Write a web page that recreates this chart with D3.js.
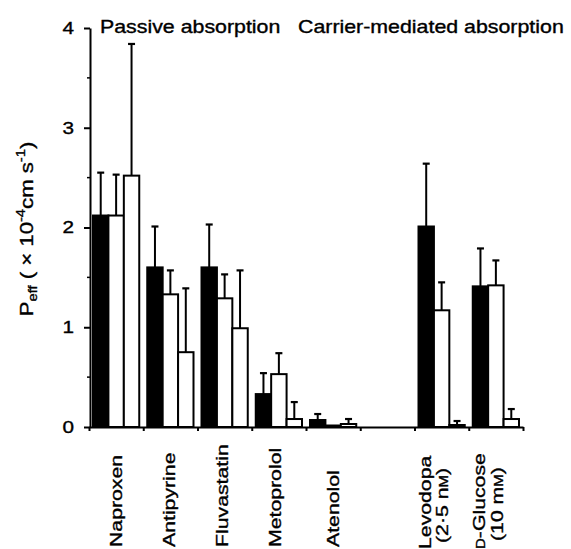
<!DOCTYPE html>
<html>
<head>
<meta charset="utf-8">
<script src="https://cdn.jsdelivr.net/npm/d3@7"></script>
<style>
  body { margin: 0; background: #fff; }
  text { font-family: "Liberation Sans", Arial, sans-serif; fill: #000; stroke: #000; stroke-width: 0.35px; }
</style>
</head>
<body>
<svg id="chart" width="571" height="549"></svg>
<script>
//data (upper error = SD shown above the bar)
var categories = ['Naproxen', 'Antipyrine', 'Fluvastatin', 'Metoprolol', 'Atenolol', '', 'Levodopa', 'D-Glucose'];
var seriesNames = ['s1', 's2', 's3'];
var series1 = [2.12, 1.60, 1.60, 0.33, 0.07, null, 2.01, 1.41];
var series2 = [2.12, 1.33, 1.29, 0.53, 0.015, null, 1.17, 1.42];
var series3 = [2.52, 0.75, 0.99, 0.08, 0.03, null, 0.02, 0.08];
var error1 = [0.43, 0.41, 0.43, 0.21, 0.06, null, 0.63, 0.38];
var error2 = [0.41, 0.24, 0.24, 0.21, 0, null, 0.28, 0.25];
var error3 = [1.32, 0.64, 0.58, 0.17, 0.05, null, 0.04, 0.10];
var yTicks = [0, 1, 2, 3, 4];
var yMinorTicks = [0.5, 1.5, 2.5, 3.5];
var groupTitles = ['Passive absorption', 'Carrier-mediated absorption'];

var svg = d3.select('#chart');
var stretch = 1.22; //glyphs are wider than Arial in the original

//scales
var x = d3.scaleBand().domain(d3.range(categories.length)).range([89, 523]).padding(0);
var xSub = d3.scaleBand().domain(seriesNames).range([4, x.bandwidth() - 4]).padding(0);
var y = d3.scaleLinear().domain([0, 4]).range([427, 28]);
var xEdge = d3.scaleLinear().domain([0, categories.length]).range([89, 523]);

var allValues = [series1, series2, series3];
var allErrors = [error1, error2, error3];
var fills = ['#000', '#fff', '#fff'];

//bars + error bars
var barData = [];
categories.forEach(function(c, i) {
  seriesNames.forEach(function(s, j) {
    var v = allValues[j][i];
    if (v == null) return;
    barData.push({ cat: i, s: s, idx: j, value: v, err: allErrors[j][i] });
  });
});
function barCenter(d) { return x(d.cat) + xSub(d.s) + xSub.bandwidth() / 2; }

var bars = svg.append('g').attr('class', 'bars');
var withErr = barData.filter(function(d) { return d.err > 0; });
bars.selectAll('line.err')
  .data(withErr)
  .enter().append('line')
  .attr('class', 'err')
  .attr('x1', barCenter).attr('x2', barCenter)
  .attr('y1', function(d) { return y(d.value); })
  .attr('y2', function(d) { return y(d.value + d.err); })
  .attr('stroke', '#000').attr('stroke-width', 2);

bars.selectAll('line.cap')
  .data(withErr)
  .enter().append('line')
  .attr('class', 'cap')
  .attr('x1', function(d) { return barCenter(d) - 3.5; })
  .attr('x2', function(d) { return barCenter(d) + 3.5; })
  .attr('y1', function(d) { return y(d.value + d.err); })
  .attr('y2', function(d) { return y(d.value + d.err); })
  .attr('stroke', '#000').attr('stroke-width', 2.2);

bars.selectAll('rect')
  .data(barData)
  .enter().append('rect')
  .attr('x', function(d) { return x(d.cat) + xSub(d.s); })
  .attr('y', function(d) { return y(d.value); })
  .attr('width', xSub.bandwidth())
  .attr('height', function(d) { return y(0) - y(d.value); })
  .attr('fill', function(d) { return fills[d.idx]; })
  .attr('stroke', '#000')
  .attr('stroke-width', 2);

//y axis
var yAxis = svg.append('g')
  .attr('transform', 'translate(90,0)')
  .call(d3.axisLeft(y).tickValues(yTicks).tickSize(6).tickSizeOuter(0).tickFormat(d3.format('d')));
yAxis.selectAll('.domain, line').attr('stroke', '#000').attr('stroke-width', 2);
yAxis.selectAll('text')
  .attr('x', -16 / stretch)
  .attr('transform', 'scale(' + stretch + ',1)')
  .style('font-size', '17px')
  .style('font-family', '"Liberation Sans", Arial, sans-serif');

svg.append('g').selectAll('line')
  .data(yMinorTicks)
  .enter().append('line')
  .attr('x1', 87).attr('x2', 90)
  .attr('y1', function(d) { return y(d); })
  .attr('y2', function(d) { return y(d); })
  .attr('stroke', '#000').attr('stroke-width', 1.5);

//x axis
var xAxis = svg.append('g')
  .attr('transform', 'translate(0,427)')
  .call(d3.axisBottom(xEdge).tickValues(d3.range(categories.length + 1)).tickSize(4).tickSizeOuter(0).tickFormat(''));
xAxis.selectAll('.domain, line').attr('stroke', '#000').attr('stroke-width', 2);

//category labels (rotated, stretched along text)
function rotLabel(cx, cy, parts) {
  var t = svg.append('text')
    .attr('transform', 'translate(' + cx + ',' + cy + ') rotate(-90) scale(1.25,1)')
    .style('font-size', '17px');
  parts.forEach(function(p) {
    t.append('tspan').text(p[0]).style('font-size', p[1] ? p[1] + 'px' : null);
  });
  return t;
}
var singleOffsets = [6, 5, 3, 2, 6];
categories.forEach(function(c, i) {
  if (c == '' || i > 4) return;
  rotLabel(x(i) + x.bandwidth() / 2 + singleOffsets[i], 547, [[c]]);
});
var lev = x(6) + x.bandwidth() / 2;
rotLabel(lev - 11, 549, [['Levodopa']]);
rotLabel(lev + 6, 543, [['(2·5 n'], ['M', 12], [')']]);
var glu = x(7) + x.bandwidth() / 2;
rotLabel(glu - 11, 549, [['D', 12], ['-Glucose']]);
rotLabel(glu + 7, 541, [['(10 m'], ['M', 12], [')']]);

//y axis title
var yTitle = svg.append('text')
  .attr('transform', 'translate(33,229) rotate(-90) scale(1.23,1)')
  .attr('text-anchor', 'middle')
  .style('font-size', '18px');
yTitle.append('tspan').text('P');
yTitle.append('tspan').text('eff').attr('dy', 4).style('font-size', '12px');
yTitle.append('tspan').text(' ( × 10').attr('dy', -4);
yTitle.append('tspan').text('-4').attr('dy', -8).style('font-size', '12px');
yTitle.append('tspan').text('cm s').attr('dy', 8);
yTitle.append('tspan').text('-1').attr('dy', -8).style('font-size', '12px');
yTitle.append('tspan').text(')').attr('dy', 8);

//group titles
svg.append('text').attr('transform', 'translate(100,33) scale(' + stretch + ',1)').style('font-size', '17.5px').text(groupTitles[0]);
svg.append('text').attr('transform', 'translate(298,33) scale(' + stretch + ',1)').style('font-size', '17.5px').text(groupTitles[1]);
</script>
</body>
</html>
